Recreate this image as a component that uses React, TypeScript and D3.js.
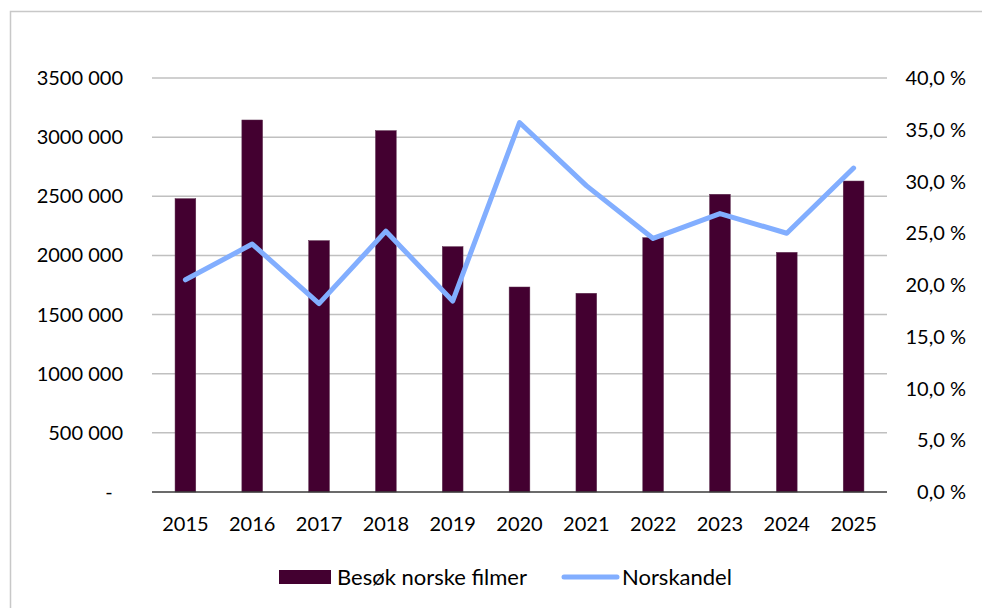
import React from "react";
import * as d3 from "d3";

const years = ["2015","2016","2017","2018","2019","2020","2021","2022","2023","2024","2025"];
const visits = [2480000,3145000,2125000,3055000,2074000,1733000,1680000,2150000,2517000,2026000,2629000];
const share = [0.205,0.2396,0.182,0.252,0.1845,0.357,0.296,0.245,0.269,0.250,0.313];
const leftTicks = [0,500000,1000000,1500000,2000000,2500000,3000000,3500000];
const rightTicks = [0,0.05,0.1,0.15,0.2,0.25,0.3,0.35,0.4];
const seriesNames = ["Besøk norske filmer","Norskandel"];

const BAR = "#430030";
const LINE = "#82AEFF";
const FONT = "Lato, 'Open Sans', sans-serif";

export default function App() {
  const W = 982, H = 608;
  const x = d3.scaleBand<string>().domain(years).range([152, 887]).padding(0);
  const yL = d3.scaleLinear().domain([0, 3500000]).range([492, 78]);
  const yR = d3.scaleLinear().domain([0, 0.4]).range([492, 78]);
  const bw = x.step() * 0.31;
  const cx = (y: string) => (x(y) as number) + x.bandwidth() / 2;
  const fmtL = (v: number) => v === 0 ? "-" : `${Math.floor(v / 1000)} ${String(v % 1000).padStart(3, "0")}`;
  const fmtR = (v: number) => d3.format(".1f")(v * 100).replace(".", ",") + " %";
  const line = d3.line<number>().x((_, i) => cx(years[i])).y(d => yR(d));

  return (
    <svg width={W} height={H} style={{ position: "absolute", left: 0, top: 0, background: "#fff" }} fontFamily={FONT}>
      <rect x={10.5} y={11.5} width={1000} height={700} fill="#fff" stroke="#c8c8c8" strokeWidth={1.5} />
      {leftTicks.slice(1).map(t => (
        <line key={t} x1={152} x2={887} y1={yL(t)} y2={yL(t)} stroke="#c0c0c0" strokeWidth={1.5} />
      ))}
      {visits.map((v, i) => (
        <rect key={years[i]} x={cx(years[i]) - bw / 2} y={yL(v)} width={bw} height={yL(0) - yL(v)} fill={BAR} stroke="#5a2a4c" strokeWidth={0.5} />
      ))}
      <line x1={152} x2={887} y1={yL(0)} y2={yL(0)} stroke="#3a3a3a" strokeWidth={1.5} />
      <path d={line(share) || ""} fill="none" stroke={LINE} strokeWidth={5} strokeLinejoin="round" strokeLinecap="round" />
      {leftTicks.map(t => (
        t === 0 ?
          <text key={t} x={109} y={yL(t)} dy="0.35em" textAnchor="middle" fontSize={20} fill="#000">-</text> :
          <text key={t} x={123} y={yL(t)} dy="0.35em" textAnchor="end" fontSize={20} fill="#000">{fmtL(t)}</text>
      ))}
      {rightTicks.map(t => (
        <text key={t} x={966} y={yR(t)} dy="0.35em" textAnchor="end" fontSize={20} fill="#000">{fmtR(t)}</text>
      ))}
      {years.map(y => (
        <text key={y} x={cx(y)} y={524} dy="0.35em" textAnchor="middle" fontSize={20} fill="#000">{y}</text>
      ))}
      <rect x={279} y={570} width={52} height={14} fill={BAR} />
      <text x={337} y={577} dy="0.35em" fontSize={22} fill="#000">{seriesNames[0]}</text>
      <line x1={564} x2={617} y1={577} y2={577} stroke={LINE} strokeWidth={5} strokeLinecap="round" />
      <text x={622} y={577} dy="0.35em" fontSize={22} fill="#000">{seriesNames[1]}</text>
    </svg>
  );
}
